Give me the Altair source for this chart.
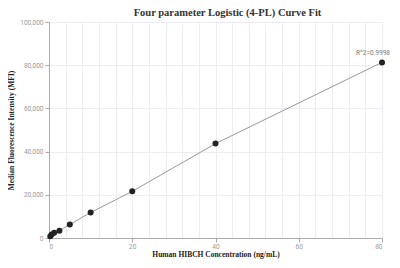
import altair as alt
import pandas as pd

conc = [0.3125, 0.625, 1.25, 2.5, 5, 10, 20, 40, 80]
mfi = [835, 1620, 2410, 3340, 6260, 11800, 21600, 43700, 81300]
r2_label = "R^2=0.9998"

df = pd.DataFrame({"conc": conc, "mfi": mfi})
lab = pd.DataFrame({"conc": [conc[-1]], "mfi": [mfi[-1]], "t": [r2_label]})

x_vals = list(range(0, 81, 4))
y_vals = list(range(0, 100001, 20000))

xs = alt.Scale(domain=[0, 80], nice=False)
ys = alt.Scale(domain=[0, 100000], nice=False)

x_axis = alt.Axis(
    values=x_vals,
    tickCount=len(x_vals),
    labelExpr="datum.value % 20 === 0 ? format(datum.value, 'd') : ''",
    labelOverlap=False,
    tickOpacity={"condition": {"test": "datum.value % 20 === 0", "value": 1}, "value": 0},
    title="Human HIBCH Concentration (ng/mL)",
)
y_axis = alt.Axis(
    values=y_vals,
    tickCount=len(y_vals),
    labelExpr="format(datum.value, ',')",
    labelOverlap=False,
    title="Median Fluorescence Intensity (MFI)",
)

base = alt.Chart(df)
line = base.mark_line(color="#999999", strokeWidth=1).encode(
    x=alt.X("conc:Q", scale=xs, axis=x_axis),
    y=alt.Y("mfi:Q", scale=ys, axis=y_axis),
)
pts = base.mark_circle(color="#222222", size=36, opacity=1).encode(
    x="conc:Q", y="mfi:Q"
)
txt = alt.Chart(lab).mark_text(
    dy=-9, dx=-9, fontSize=6.5, color="#777777", font="Roboto", align="center"
).encode(x="conc:Q", y="mfi:Q", text="t:N")

chart = (
    alt.layer(line, pts, txt)
    .properties(
        width=333,
        height=216,
        title=alt.TitleParams(
            "Four parameter Logistic (4-PL) Curve Fit",
            font="Liberation Serif",
            fontSize=10.5,
            fontWeight="bold",
            color="#333333",
            offset=1,
            dx=12,
        ),
        autosize=alt.AutoSizeParams(type="none"),
        padding={"left": 41, "top": 14, "right": 10, "bottom": 22},
    )
    .configure_view(stroke=None)
    .configure_axis(
        labelFont="Roboto",
        labelFontSize=6.5,
        labelColor="#999999",
        titleFont="Liberation Serif",
        titleFontSize=7.5,
        titleFontWeight="bold",
        titleColor="#222222",
        gridColor="#ececf4",
        gridWidth=1,
        domainColor="#aaaaaa",
        tickColor="#aaaaaa",
        tickSize=4,
        labelPadding=2,
    )
    .configure_axisX(titlePadding=1, labelPadding=1)
    .configure_axisY(titlePadding=4)
)

chart.save("out.html", embed_options={"renderer": "svg", "actions": False})
